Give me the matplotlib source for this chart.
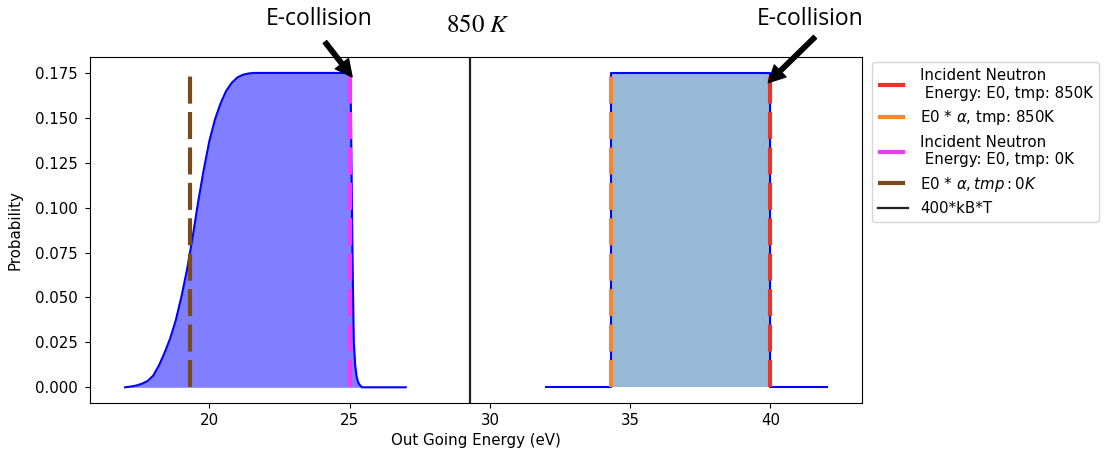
import matplotlib
matplotlib.use("Agg")
import matplotlib.pyplot as plt

plt.rcParams['font.size'] = 10.8

# thermal (850 K) distribution
energy_850 = [17.0, 17.2, 17.4, 17.6, 17.8, 18.0, 18.2, 18.4, 18.6, 18.8,
              19.0, 19.2, 19.4, 19.6, 19.8, 20.0, 20.2, 20.4, 20.6, 20.8,
              21.0, 21.2, 21.4, 21.6, 22.0, 23.0, 24.0, 24.95, 25.0, 25.03,
              25.05, 25.07, 25.09, 25.12, 25.15, 25.2, 25.25, 25.3, 25.35, 25.44,
              26.0, 27.0]
prob_850 = [0.0, 0.0004, 0.001, 0.002, 0.0035, 0.0065, 0.012, 0.019, 0.027, 0.037,
            0.050, 0.065, 0.083, 0.103, 0.121, 0.137, 0.149, 0.158, 0.165, 0.1695,
            0.1725, 0.174, 0.1747, 0.175, 0.175, 0.175, 0.175, 0.175, 0.1748, 0.172,
            0.150, 0.120, 0.090, 0.055, 0.025, 0.012, 0.006, 0.003, 0.0015, 0.0,
            0.0, 0.0]

# 0 K distribution (step)
energy_0 = [32.0, 34.3, 34.3, 40.0, 40.0, 42.0]
prob_0 = [0.0, 0.0, 0.175, 0.175, 0.0, 0.0]

e0_850 = 40.0
e0_alpha_850 = 34.3
e0_0 = 25.0
e0_alpha_0 = 19.3
cutoff = 29.3  # 400*kB*T
p_top = 0.175

fig = plt.figure(figsize=(11.09, 4.54), dpi=100)
ax = fig.add_axes([0.0812, 0.1123, 0.6958, 0.7617])

ax.plot(energy_850, prob_850, color='blue', lw=1.5)
ax.fill_between(energy_850, prob_850, color='blue', alpha=0.5, lw=0)
ax.plot(energy_0, prob_0, color='blue', lw=1.5)
ax.fill_between(energy_0, prob_0, color='#3a7ab0', alpha=0.52, lw=0)

dash = (6.5, 2)
ax.plot([e0_850, e0_850], [0, p_top], color='#e8352b', lw=3, dashes=dash,
        label='Incident Neutron\n Energy: E0, tmp: 850K')
ax.plot([e0_alpha_850, e0_alpha_850], [0, p_top], color='#ee8a36', lw=3, dashes=dash,
        label=r'E0 * $\alpha$, tmp: 850K')
ax.plot([e0_0, e0_0], [0, p_top], color='#f03cf0', lw=3, dashes=dash,
        label='Incident Neutron\n Energy: E0, tmp: 0K')
ax.plot([e0_alpha_0, e0_alpha_0], [0, p_top], color='#7b4a1c', lw=3, dashes=dash,
        label=r'E0 * $\alpha, tmp: 0K$')
ax.axvline(cutoff, color='#222222', lw=1.6, label='400*kB*T')

ax.tick_params(axis='y', pad=5)
ax.set_xlabel('Out Going Energy (eV)')
ax.set_ylabel('Probability', labelpad=9)

fig.text(0.431, 428.5 / 454, r'$850\ K$', fontsize=18, ha='center', va='center',
         math_fontfamily='stix')

ax.legend(loc='upper left', bbox_to_anchor=(1.014, 0.9855), borderaxespad=0.0,
          handlelength=2.0)

arrow = dict(facecolor='black', edgecolor='black', width=3.2, headwidth=12,
             headlength=12, shrink=0.0)
fig.text(319, 435, 'E-collision', transform=None, fontsize=16.5, ha='center',
         va='center', family='Open Sans')
fig.text(810, 435, 'E-collision', transform=None, fontsize=16.5, ha='center',
         va='center', family='Open Sans')
ax.annotate('', xy=(25.09, 0.1728), xytext=(325, 412),
            textcoords='figure pixels', arrowprops=arrow)
ax.annotate('', xy=(39.92, 0.1696), xytext=(815, 417),
            textcoords='figure pixels', arrowprops=arrow)

fig.savefig('out.png', dpi=100)
